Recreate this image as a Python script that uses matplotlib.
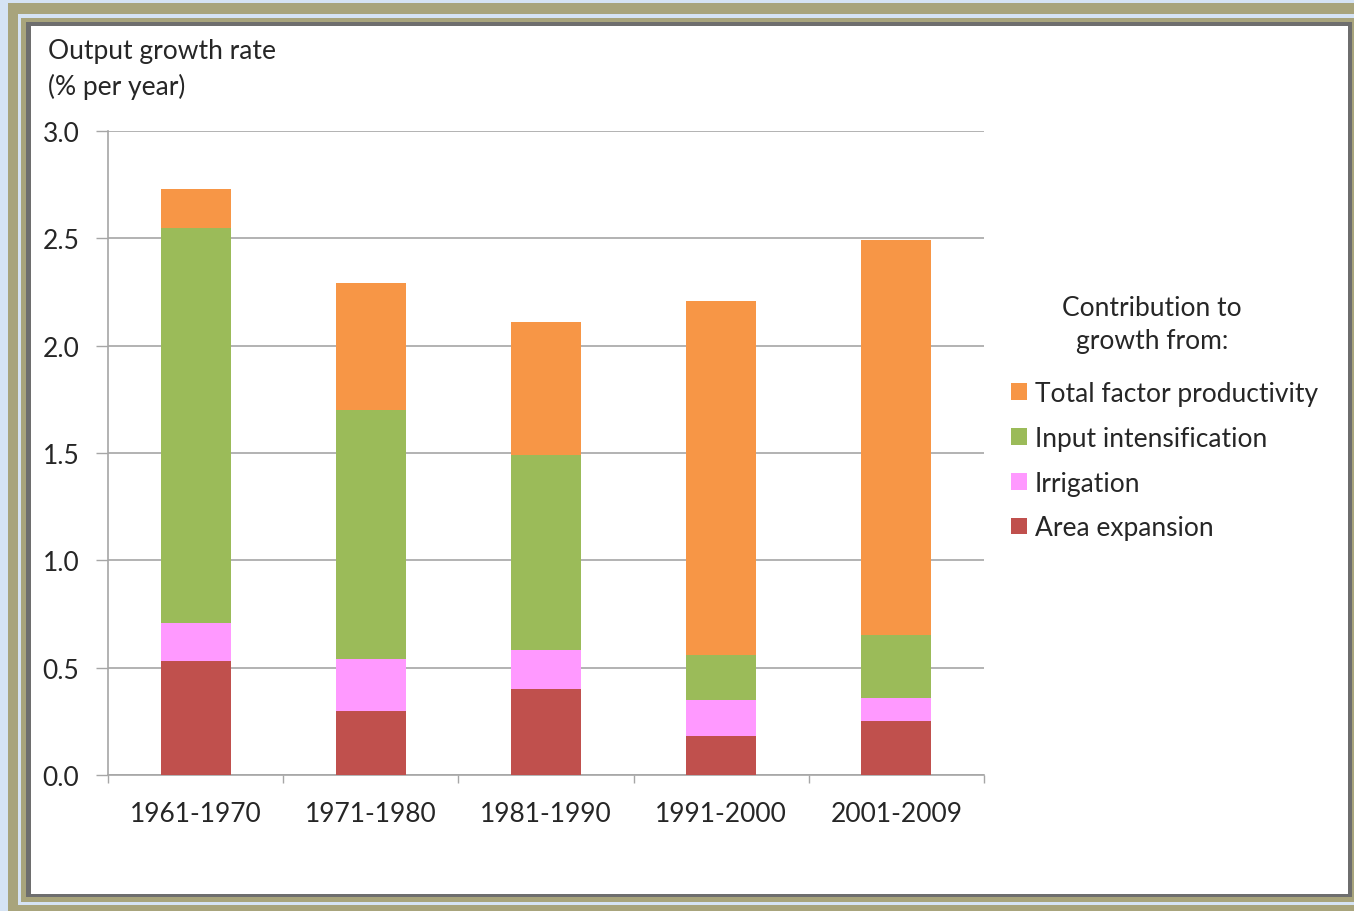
import matplotlib
matplotlib.use("Agg")
import matplotlib.pyplot as plt
from matplotlib.patches import Rectangle
import numpy as np

plt.rcParams["font.family"] = ["Lato", "DejaVu Sans"]

# ── data ──────────────────────────────────────────────────
PERIODS = ["1961-1970", "1971-1980", "1981-1990", "1991-2000", "2001-2009"]
AREA_EXPANSION = [0.53, 0.30, 0.40, 0.18, 0.25]
IRRIGATION = [0.18, 0.24, 0.18, 0.17, 0.11]
INPUT_INTENSIFICATION = [1.84, 1.16, 0.91, 0.21, 0.29]
TFP = [0.18, 0.59, 0.62, 1.65, 1.84]

SERIES = [
    ("Area expansion", AREA_EXPANSION, "#C0504D"),
    ("Irrigation", IRRIGATION, "#FF99FF"),
    ("Input intensification", INPUT_INTENSIFICATION, "#9BBB59"),
    ("Total factor productivity", TFP, "#F79646"),
]

TEXT = "#262626"
GRID = "#A6A6A6"
FS = 19

W, H = 1354, 912
fig = plt.figure(figsize=(W / 100, H / 100), dpi=100, facecolor="#D5E3F4")


def px_rect(x0, y0, x1, y1, color):
    """rectangle in pixel coords (origin top-left)"""
    fig.patches.append(Rectangle((x0 / W, 1 - y1 / H), (x1 - x0) / W, (y1 - y0) / H,
                                 transform=fig.transFigure, facecolor=color,
                                 edgecolor="none", zorder=-10))


# screenshot frame
px_rect(8, 4, 1354, 912, "#A8A47C")
px_rect(18, 15, 1354, 906, "#D5E3F4")
px_rect(21, 19, 1354, 903, "#A8A47C")
px_rect(26, 23, 1352, 898, "#6E6E6E")
px_rect(31, 27, 1348, 895, "#FFFFFF")

ax = fig.add_axes([108 / W, 1 - 776 / H, (984 - 108) / W, (776 - 132) / H])
ax.set_facecolor("none")

x = np.arange(len(PERIODS))
bottom = np.zeros(len(PERIODS))
handles = []
for name, vals, color in SERIES:
    b = ax.bar(x, vals, width=0.4, bottom=bottom, color=color, label=name, zorder=3)
    handles.append(b)
    bottom += np.array(vals)

ax.set_xlim(-0.5, len(PERIODS) - 0.5)
ax.set_ylim(0, 3.0)
ax.set_yticks(np.arange(0, 3.01, 0.5))
ax.set_yticklabels([f"{v:.1f}" for v in np.arange(0, 3.01, 0.5)])
ax.set_xticks(x)
ax.set_xticklabels(PERIODS)
ax.set_xticks(np.arange(-0.5, len(PERIODS)), minor=True)

ax.tick_params(axis="y", length=8.6, width=1, color=GRID, pad=12, labelsize=FS, labelcolor=TEXT)
ax.tick_params(axis="x", which="major", length=0, pad=19, labelsize=FS, labelcolor=TEXT)
ax.tick_params(axis="x", which="minor", length=6, width=1, color=GRID)

ax.grid(axis="y", color=GRID, linewidth=1.2, zorder=0)
ax.spines[["top", "right"]].set_visible(False)
ax.spines["left"].set_color(GRID)
ax.spines["bottom"].set_color(GRID)
ax.spines["left"].set_linewidth(1.2)
ax.spines["bottom"].set_linewidth(1.2)

fig.text(48 / W, 1 - 39 / H, "Output growth rate\n(% per year)", ha="left", va="top",
         fontsize=FS, color=TEXT, linespacing=1.45)

# legend title drawn centred above the entries, as in the source chart
fig.text(1152 / W, 1 - 325 / H, "Contribution to\ngrowth from:", ha="center", va="center",
         fontsize=FS, color=TEXT, linespacing=1.45)

leg = fig.legend(handles[::-1], [s[0] for s in SERIES][::-1],
                 loc="upper left", bbox_to_anchor=(1011 / W, 1 - 382 / H),
                 frameon=False, fontsize=FS, handlelength=0.6, handleheight=0.6,
                 handletextpad=0.3, labelspacing=0.75, borderaxespad=0, borderpad=0)
for t in leg.get_texts():
    t.set_color(TEXT)

fig.savefig("out.png", dpi=100, facecolor=fig.get_facecolor())
